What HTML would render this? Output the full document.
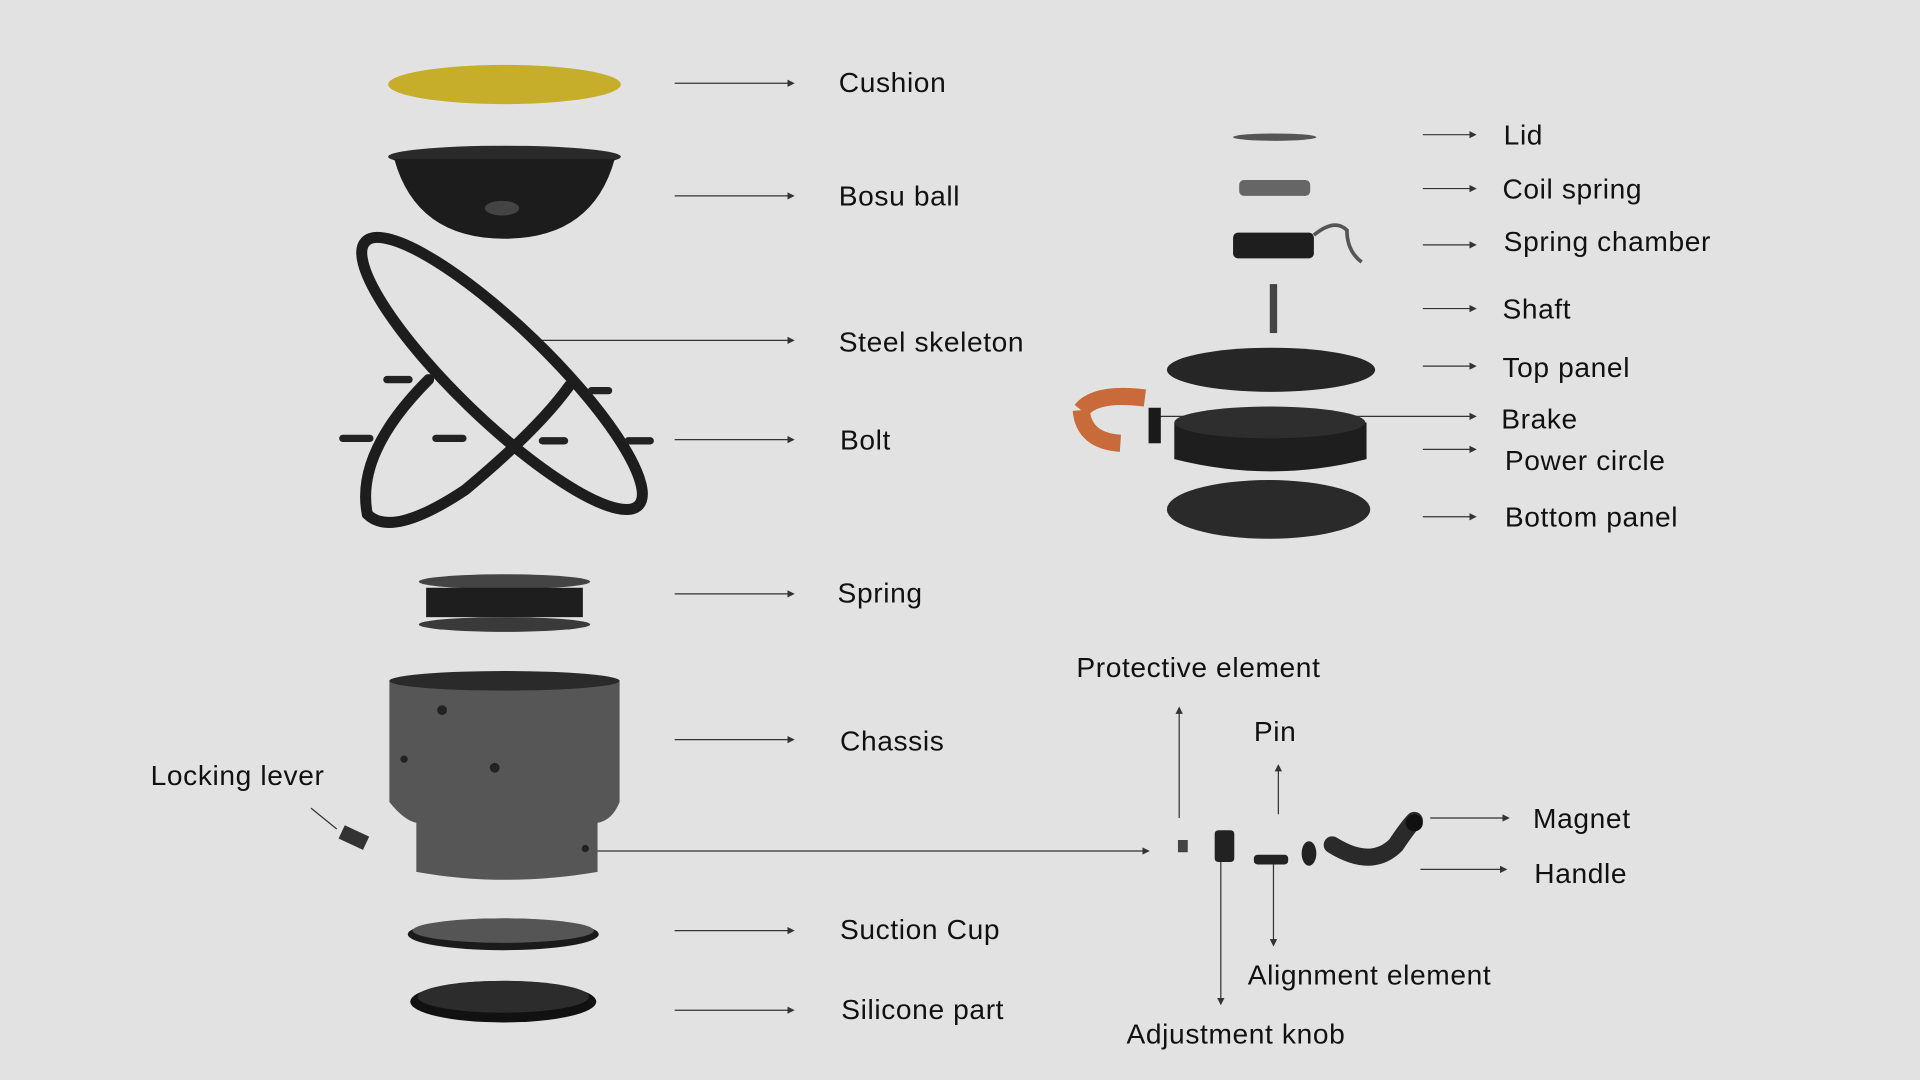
<!DOCTYPE html>
<html><head><meta charset="utf-8"><style>
html,body{margin:0;padding:0;background:#e2e2e2;}
svg{display:block}
text{font-family:"Liberation Sans",sans-serif;font-size:23px;letter-spacing:0.5px;fill:#111}
</style></head><body>
<svg width="1920" height="1080" viewBox="0 0 1568 882" xmlns="http://www.w3.org/2000/svg">
<defs>
<marker id="a" markerWidth="6" markerHeight="6" refX="5" refY="3" orient="auto"><path d="M0,0 L6,3 L0,6z" fill="#333"/></marker>
</defs>
<rect width="1568" height="882" fill="#e2e2e2"/>
<g stroke="#333" stroke-width="1" fill="none">
<line x1="551" y1="68" x2="648" y2="68" marker-end="url(#a)"/>
<line x1="551" y1="160" x2="648" y2="160" marker-end="url(#a)"/>
<line x1="435" y1="278" x2="648" y2="278" marker-end="url(#a)"/>
<line x1="551" y1="359" x2="648" y2="359" marker-end="url(#a)"/>
<line x1="551" y1="485" x2="648" y2="485" marker-end="url(#a)"/>
<line x1="551" y1="604" x2="648" y2="604" marker-end="url(#a)"/>
<line x1="551" y1="760" x2="648" y2="760" marker-end="url(#a)"/>
<line x1="551" y1="825" x2="648" y2="825" marker-end="url(#a)"/>
<line x1="1162" y1="110" x2="1205" y2="110" marker-end="url(#a)"/>
<line x1="1162" y1="154" x2="1205" y2="154" marker-end="url(#a)"/>
<line x1="1162" y1="200" x2="1205" y2="200" marker-end="url(#a)"/>
<line x1="1162" y1="252" x2="1205" y2="252" marker-end="url(#a)"/>
<line x1="1162" y1="299" x2="1205" y2="299" marker-end="url(#a)"/>
<line x1="940" y1="340" x2="1205" y2="340" marker-end="url(#a)"/>
<line x1="1162" y1="367" x2="1205" y2="367" marker-end="url(#a)"/>
<line x1="1162" y1="422" x2="1205" y2="422" marker-end="url(#a)"/>
<line x1="488" y1="695" x2="938" y2="695" marker-end="url(#a)"/>
<line x1="963" y1="668" x2="963" y2="578" marker-end="url(#a)"/>
<line x1="1044" y1="665" x2="1044" y2="625" marker-end="url(#a)"/>
<line x1="997" y1="700" x2="997" y2="820" marker-end="url(#a)"/>
<line x1="1040" y1="700" x2="1040" y2="772" marker-end="url(#a)"/>
<line x1="1168" y1="668" x2="1232" y2="668" marker-end="url(#a)"/>
<line x1="1160" y1="710" x2="1230" y2="710" marker-end="url(#a)"/>
<line x1="254" y1="660" x2="275" y2="677"/>
</g>
<ellipse cx="412" cy="69" rx="95" ry="16" fill="#c6ae2a"/>
<ellipse cx="412" cy="128" rx="95" ry="9" fill="#2a2a2a"/>
<path d="M322,130 Q340,195 412,195 Q484,195 502,130 Z" fill="#1c1c1c"/>
<ellipse cx="410" cy="170" rx="14" ry="6" fill="#444"/>
<g fill="none" stroke="#1d1d1d" stroke-width="9" stroke-linecap="round">
<ellipse cx="410" cy="305" rx="155" ry="38" transform="rotate(44 410 305)"/>
<path d="M350,310 Q290,370 300,420 Q320,440 380,400 Q440,350 465,315"/>
</g>
<g fill="#222">
<rect x="277" y="355" width="28" height="6" rx="3"/>
<rect x="353" y="355" width="28" height="6" rx="3"/>
<rect x="440" y="357" width="24" height="6" rx="3"/>
<rect x="510" y="357" width="24" height="6" rx="3"/>
<rect x="313" y="307" width="24" height="6" rx="3"/>
<rect x="480" y="316" width="20" height="6" rx="3"/>
</g>
<ellipse cx="412" cy="475" rx="70" ry="6" fill="#444"/>
<rect x="348" y="480" width="128" height="24" fill="#1e1e1e"/>
<ellipse cx="412" cy="510" rx="70" ry="6" fill="#3a3a3a"/>
<path d="M318,556 L318,655 Q330,670 340,672 L340,712 Q412,725 488,712 L488,672 Q500,670 506,655 L506,556 Z" fill="#565656"/>
<ellipse cx="412" cy="556" rx="94" ry="8" fill="#2a2a2a"/>
<circle cx="361" cy="580" r="4" fill="#222"/><circle cx="404" cy="627" r="4" fill="#222"/><circle cx="478" cy="693" r="3" fill="#222"/><circle cx="330" cy="620" r="3" fill="#222"/>
<rect x="278" y="678" width="22" height="12" transform="rotate(25 289 684)" fill="#333"/>
<ellipse cx="411" cy="763" rx="78" ry="13" fill="#1a1a1a"/>
<ellipse cx="411" cy="760" rx="74" ry="10" fill="#555"/>
<ellipse cx="411" cy="818" rx="76" ry="17" fill="#111"/>
<ellipse cx="411" cy="814" rx="70" ry="13" fill="#2c2c2c"/>
<ellipse cx="1041" cy="112" rx="34" ry="3" fill="#555"/>
<rect x="1012" y="147" width="58" height="13" rx="4" fill="#666"/>
<rect x="1007" y="190" width="66" height="21" rx="4" fill="#1e1e1e"/>
<path d="M1073,192 Q1090,178 1100,188 Q1100,205 1112,214" stroke="#555" stroke-width="3" fill="none"/>
<rect x="1037" y="232" width="6" height="40" fill="#444"/>
<ellipse cx="1038" cy="302" rx="85" ry="18" fill="#262626"/>
<path d="M883,335 Q885,360 915,362" stroke="#c86a3a" stroke-width="14" fill="none"/>
<path d="M883,335 Q895,320 935,325" stroke="#c86a3a" stroke-width="14" fill="none"/>
<rect x="938" y="333" width="10" height="29" fill="#1a1a1a"/>
<path d="M959,345 L959,375 Q1038,395 1116,375 L1116,345 Z" fill="#1e1e1e"/>
<ellipse cx="1037" cy="345" rx="78" ry="13" fill="#2e2e2e"/>
<ellipse cx="1036" cy="416" rx="83" ry="24" fill="#2a2a2a"/>
<rect x="962" y="686" width="8" height="10" fill="#444"/>
<rect x="992" y="678" width="16" height="26" rx="3" fill="#222"/>
<rect x="1024" y="698" width="28" height="8" rx="3" fill="#222"/>
<ellipse cx="1069" cy="697" rx="6" ry="10" fill="#222"/>
<path d="M1088,690 Q1120,710 1140,690 Q1150,675 1155,670" stroke="#2a2a2a" stroke-width="14" fill="none" stroke-linecap="round"/>
<circle cx="1155" cy="672" r="7" fill="#111"/>
<text x="685" y="75">Cushion</text>
<text x="685" y="168">Bosu ball</text>
<text x="685" y="287">Steel skeleton</text>
<text x="686" y="367">Bolt</text>
<text x="684" y="492">Spring</text>
<text x="686" y="613">Chassis</text>
<text x="123" y="641">Locking lever</text>
<text x="686" y="767">Suction Cup</text>
<text x="687" y="832">Silicone part</text>
<text x="1228" y="118">Lid</text>
<text x="1227" y="162">Coil spring</text>
<text x="1228" y="205">Spring chamber</text>
<text x="1227" y="260">Shaft</text>
<text x="1227" y="308">Top panel</text>
<text x="1226" y="350">Brake</text>
<text x="1229" y="384">Power circle</text>
<text x="1229" y="430">Bottom panel</text>
<text x="879" y="553">Protective element</text>
<text x="1024" y="605">Pin</text>
<text x="1252" y="676">Magnet</text>
<text x="1253" y="721">Handle</text>
<text x="1019" y="804">Alignment element</text>
<text x="920" y="852">Adjustment knob</text>
</svg>
</body></html>
